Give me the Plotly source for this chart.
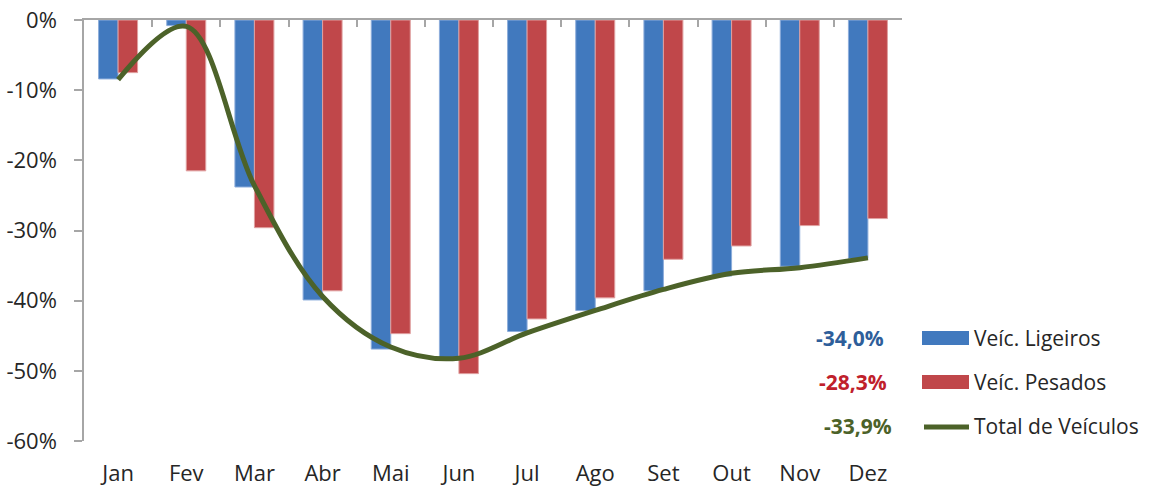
import plotly.graph_objects as go

# Monthly variation (%) by vehicle type
months = ["Jan", "Fev", "Mar", "Abr", "Mai", "Jun", "Jul", "Ago", "Set", "Out", "Nov", "Dez"]
ligeiros = [-8.4, -0.8, -23.8, -39.9, -46.9, -48.1, -44.4, -41.4, -38.6, -36.5, -35.1, -34.0]
pesados = [-7.5, -21.5, -29.6, -38.6, -44.7, -50.4, -42.6, -39.6, -34.1, -32.2, -29.3, -28.3]
total = [-8.5, -0.9, -23.6, -39.4, -46.6, -48.2, -44.6, -41.4, -38.4, -36.1, -35.3, -33.9]

series_names = ["Veíc. Ligeiros", "Veíc. Pesados", "Total de Veículos"]
year_values = ["-34,0%", "-28,3%", "-33,9%"]

BLUE = "#4179BE"
RED = "#C0474A"
GREEN = "#4C6229"
AXIS = "#A6A6A6"
TEXT = "#262626"
FONT = "Open Sans"
FS = 21

W, H = 1154, 486
L, R, T, B = 84, 252, 20, 45

xs = list(range(len(months)))
bw = 0.286

fig = go.Figure()
fig.add_trace(go.Bar(x=xs, y=ligeiros, width=bw, offset=-bw,
                     marker=dict(color=BLUE, line=dict(color="#8DADDB", width=1)),
                     name=series_names[0], showlegend=False))
fig.add_trace(go.Bar(x=xs, y=pesados, width=bw, offset=0,
                     marker=dict(color=RED, line=dict(color="#E0A0A0", width=1)),
                     name=series_names[1], showlegend=False))
fig.add_trace(go.Scatter(x=xs, y=total, mode="lines",
                         line=dict(color=GREEN, width=5, shape="spline", smoothing=1.0),
                         name=series_names[2], showlegend=False))
# carrier trace for the top category axis (boundary ticks)
fig.add_trace(go.Scatter(x=[-0.5, 11.5], y=[0, 0], xaxis="x2", mode="lines",
                         line=dict(width=0), hoverinfo="skip", showlegend=False))

fig.update_layout(
    width=W, height=H,
    margin=dict(l=L, r=R, t=T, b=B),
    paper_bgcolor="white", plot_bgcolor="white",
    font=dict(family=FONT, size=FS, color=TEXT),
    xaxis=dict(range=[-0.5, 11.5], tickmode="array", tickvals=xs, ticktext=months,
               tickfont=dict(size=22),
               showline=False, showgrid=False, zeroline=False, ticks="",
               ticklabelstandoff=17, automargin=False, fixedrange=True),
    xaxis2=dict(range=[-0.5, 11.5], overlaying="x", side="top", anchor="y",
                tickmode="array", tickvals=[i - 0.5 for i in range(13)],
                showticklabels=False, ticks="inside", ticklen=7, tickcolor=AXIS, tickwidth=1.5,
                showline=True, linecolor=AXIS, linewidth=1.5,
                showgrid=False, zeroline=False, automargin=False),
    yaxis=dict(range=[-60, 0], tickmode="array", tickvals=[0, -10, -20, -30, -40, -50, -60],
               ticktext=["0%", "-10%", "-20%", "-30%", "-40%", "-50%", "-60%"],
               tickfont=dict(size=22),
               showline=True, linecolor=AXIS, linewidth=1.5,
               ticks="outside", ticklen=8, tickcolor=AXIS, tickwidth=1.5,
               ticklabelstandoff=13,
               showgrid=False, zeroline=False, automargin=False),
    bargap=0.43,
)

# custom legend: swatches, series names and annual values (pixel -> paper)
pw, ph = W - L - R, H - T - B
px_x = lambda p: (p - L) / pw
px_y = lambda p: (H - B - p) / ph
rows_y = [338, 382, 426]
colors = [BLUE, RED, GREEN]
value_colors = ["#2E5E9A", "#C0202B", "#4C6229"]
for i, yy in enumerate(rows_y):
    if i < 2:
        fig.add_shape(type="rect", xref="paper", yref="paper",
                      x0=px_x(922), x1=px_x(969), y0=px_y(yy - 7), y1=px_y(yy + 7),
                      fillcolor=colors[i], line=dict(width=0))
    else:
        fig.add_shape(type="line", xref="paper", yref="paper",
                      x0=px_x(924), x1=px_x(969), y0=px_y(yy + 1), y1=px_y(yy + 1),
                      line=dict(color=colors[i], width=5))
    fig.add_annotation(xref="paper", yref="paper", x=px_x(972), y=px_y(yy),
                       text=series_names[i], showarrow=False, xanchor="left", yanchor="middle",
                       font=dict(family=FONT, size=FS, color=TEXT))
    fig.add_annotation(xref="paper", yref="paper", x=px_x([886, 889, 894][i]), y=px_y(yy),
                       text="<b>" + year_values[i] + "</b>", showarrow=False,
                       xanchor="right", yanchor="middle",
                       font=dict(family=FONT, size=FS, color=value_colors[i]))

fig.write_html("out.html")
